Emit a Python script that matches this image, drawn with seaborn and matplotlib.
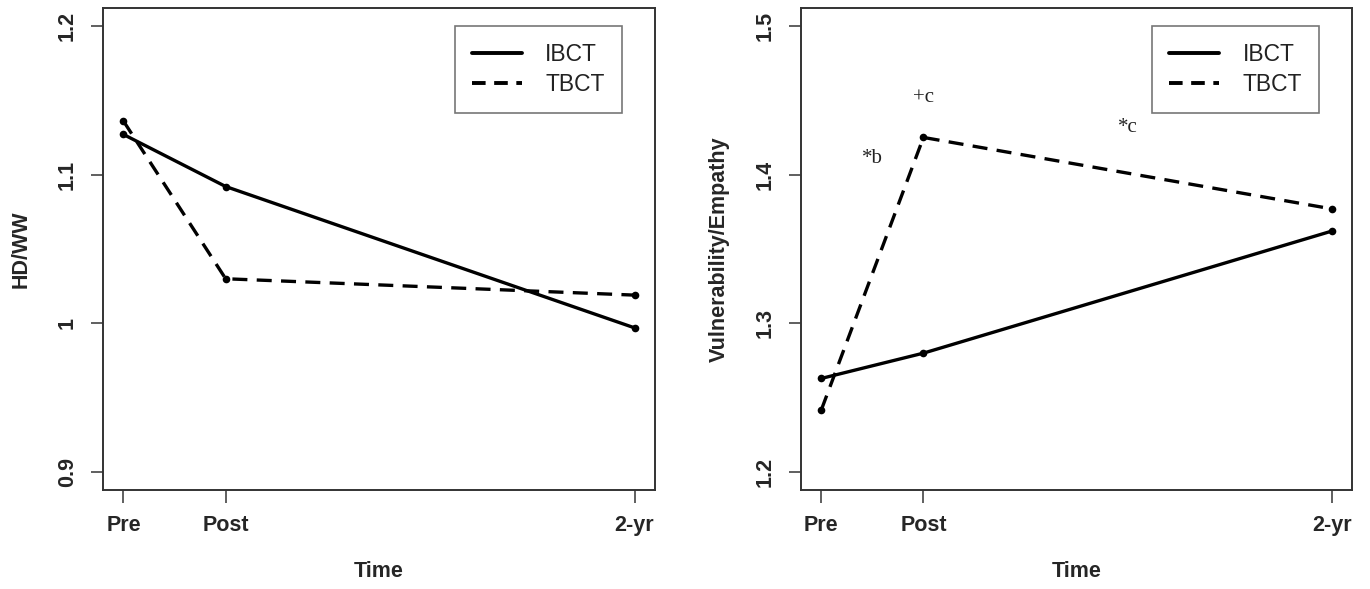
import matplotlib
matplotlib.use("Agg")
import matplotlib.pyplot as plt
from matplotlib.lines import Line2D
import pandas as pd
import seaborn as sns

# values
time_points = [0, 0.5, 2.5]
time_labels = ["Pre", "Post", "2-yr"]
groups = ["IBCT", "TBCT"]

hdww_ibct = [1.127, 1.092, 0.997]
hdww_tbct = [1.136, 1.030, 1.019]
vuln_ibct = [1.263, 1.280, 1.362]
vuln_tbct = [1.242, 1.425, 1.377]

hdww_ticks = [0.9, 1.0, 1.1, 1.2]
hdww_ticklabels = ["0.9", "1", "1.1", "1.2"]
vuln_ticks = [1.2, 1.3, 1.4, 1.5]
vuln_ticklabels = ["1.2", "1.3", "1.4", "1.5"]

# significance notes on the right panel: (text, x, y)
notes = [("+c", 0.5, 1.452), ("*b", 0.25, 1.411), ("*c", 1.5, 1.432)]


def long_df(ibct, tbct):
    return pd.DataFrame({
        "Time": time_points * 2,
        "value": ibct + tbct,
        "group": ["IBCT"] * 3 + ["TBCT"] * 3,
    })


sns.set_theme(style="ticks")
plt.rcParams["font.family"] = ["Liberation Sans", "DejaVu Sans"]

fig = plt.figure(figsize=(13.7, 5.89), dpi=100)
ax1 = fig.add_axes([103 / 1370, 1 - 490 / 589, 552 / 1370, 482 / 589])
ax2 = fig.add_axes([801 / 1370, 1 - 490 / 589, 551 / 1370, 482 / 589])

dash_map = {"IBCT": "", "TBCT": (4.5, 2.8)}
lw = 2.4
panels = [
    (ax1, long_df(hdww_ibct, hdww_tbct), "HD/WW", hdww_ticks, hdww_ticklabels),
    (ax2, long_df(vuln_ibct, vuln_tbct), "Vulnerability/Empathy", vuln_ticks, vuln_ticklabels),
]

for ax, df, ylabel, yt, ytl in panels:
    sns.lineplot(data=df, x="Time", y="value", style="group", dashes=dash_map,
                 markers={"IBCT": "o", "TBCT": "o"}, color="black", linewidth=lw,
                 markersize=5.5, markeredgewidth=0, legend=False, ax=ax)
    ax.set_xlim(-0.1, 2.6)
    ax.set_ylim(yt[0] - 0.012, yt[-1] + 0.012)
    ax.set_xticks(time_points)
    ax.set_xticklabels(time_labels, fontsize=15.5, fontweight="bold")
    ax.set_yticks(yt)
    ax.set_yticklabels(ytl, fontsize=15.5, fontweight="bold", rotation=90, va="center")
    ax.set_xlabel("Time", fontsize=15.5, fontweight="bold", labelpad=18)
    ax.set_ylabel(ylabel, fontsize=15.5, fontweight="bold", labelpad=18)
    ax.tick_params(axis="both", length=9, width=1.2, color="#444444", pad=9)
    for sp in ax.spines.values():
        sp.set_visible(True)
        sp.set_linewidth(1.4)
        sp.set_color("#333333")

    handles = [Line2D([], [], color="black", linewidth=lw + 0.4),
               Line2D([], [], color="black", linewidth=lw + 0.4, dashes=(3.5, 2.2))]
    leg = ax.legend(handles, groups, loc="upper right", bbox_to_anchor=(0.94, 0.963),
                    borderaxespad=0, fontsize=16.5, frameon=True, fancybox=False,
                    handlelength=2.2, handletextpad=1.0, borderpad=0.75,
                    labelspacing=0.3)
    for t in leg.get_texts():
        t.set_color("#222222")
    leg.get_frame().set_edgecolor("#555555")
    leg.get_frame().set_linewidth(1.2)

for txt, x, y in notes:
    ax2.text(x, y, txt, ha="center", va="center", fontsize=15,
             family=["Liberation Serif", "DejaVu Serif"], color="#222222")

fig.savefig("out.png", dpi=100)
